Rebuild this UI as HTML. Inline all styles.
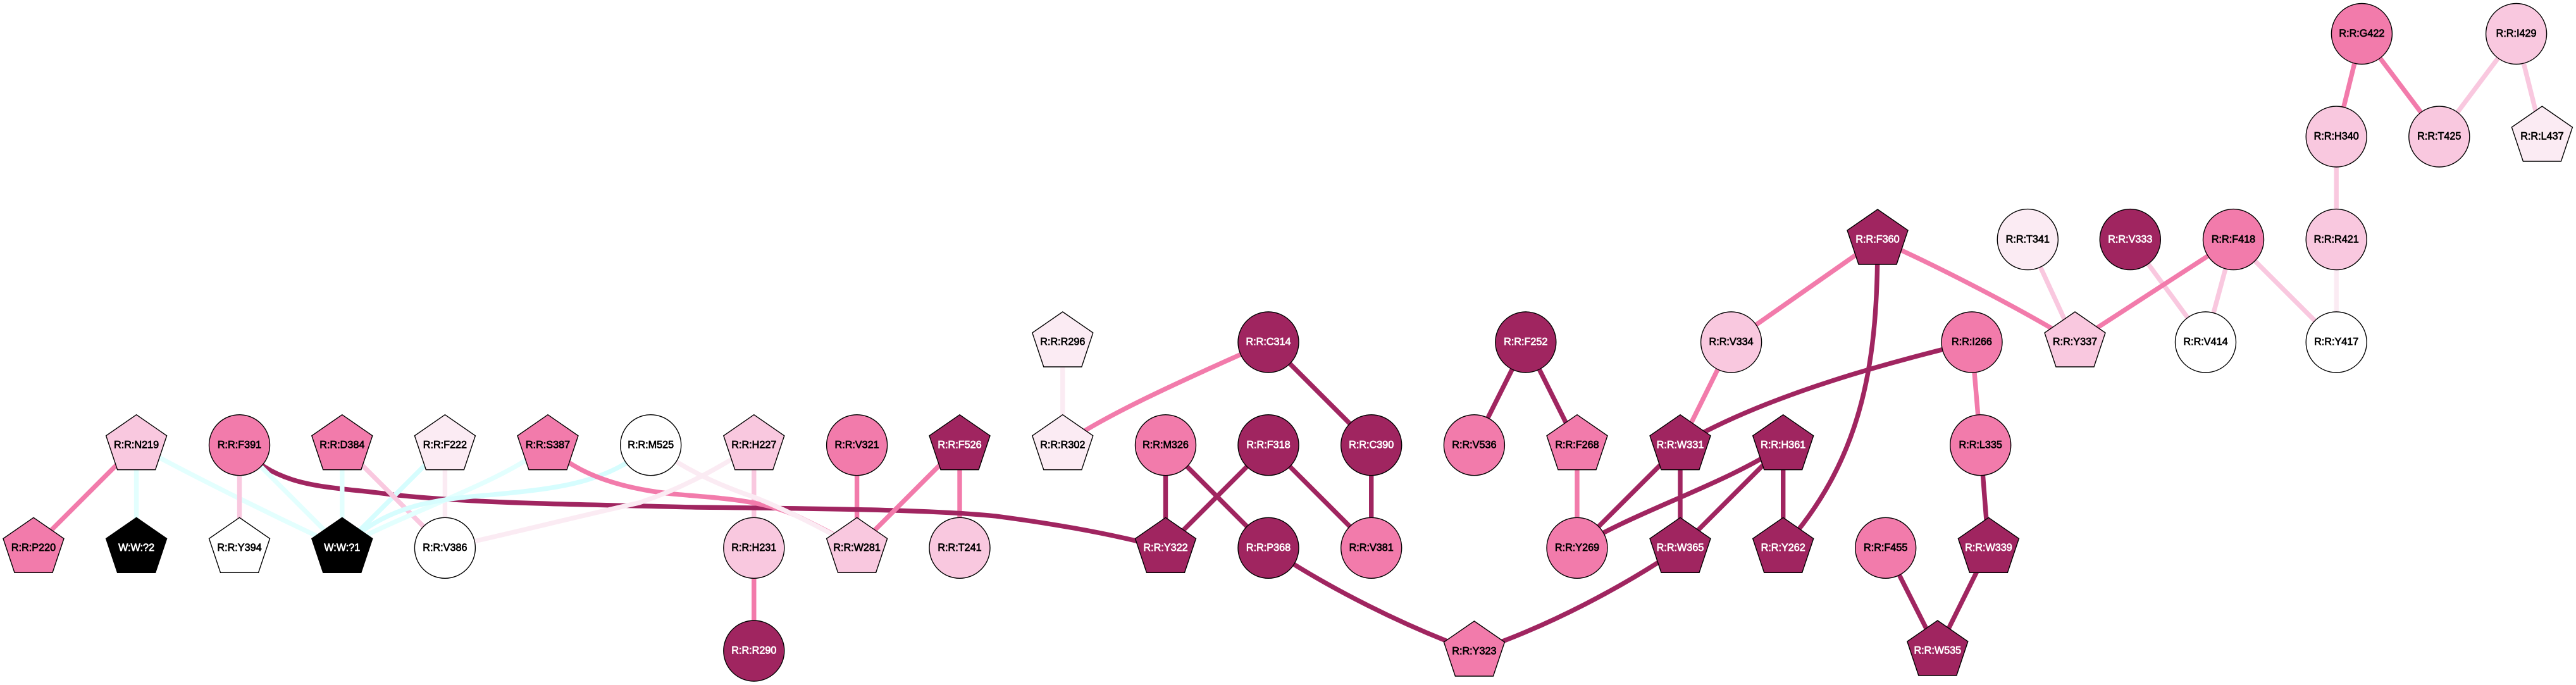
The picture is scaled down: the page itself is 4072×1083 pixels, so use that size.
<!DOCTYPE html>
<html><head><meta charset="utf-8"><style>
html,body{margin:0;padding:0;background:#fff;width:4072px;height:1083px;overflow:hidden}
svg{display:block}
.e{fill:none;stroke-width:7.4}
.d{stroke:#a02560}.p{stroke:#f27bab}.l{stroke:#f9c8df}.v{stroke:#fbebf3}.c{stroke:#e3fffe}.k{stroke:#d6fdfe}
circle,polygon{stroke:#000;stroke-width:1.4}
.D{fill:#a02560}.P{fill:#f27bab}.L{fill:#f9c8df}.V{fill:#fbebf3}.W{fill:#fff}.B{fill:#000}
text{font-family:"Liberation Sans",Arial,sans-serif;font-weight:normal;font-size:16.2px;text-anchor:middle;fill:#000;stroke:#000;stroke-width:.7}
text.w{fill:#fff;stroke:#fff}
</style></head><body>
<svg width="4072" height="1083" viewBox="0 0 4072 1083" xmlns="http://www.w3.org/2000/svg">
<rect width="4072" height="1083" fill="#fff"/>
<g>
<path class="e v" d="M703.4,703.7V866.3"/>
<path class="e l" d="M1191.8,703.7V866.3"/>
<path class="e p" d="M1354.6,703.7V866.3"/>
<path class="e p" d="M1517,703.7V866.3"/>
<path class="e d" d="M378.5,703.7C440,775 520,768 620,782C750,796 900,797 1100,802C1300,804 1480,806 1574,816C1650,826 1740,840 1842.5,866.3"/>
<path class="e p" d="M53,866.3L215.6,703.7"/>
<path class="e c" d="M215.6,703.7V866.3"/>
<path class="e c" d="M215.6,703.7C290,745 420,810 540.8,866.3"/>
<path class="e l" d="M378.5,703.7V866.3"/>
<path class="e c" d="M378.5,703.7L540.8,866.3"/>
<path class="e c" d="M540.8,703.7V866.3"/>
<path class="e k" d="M703.4,703.7L540.8,866.3"/>
<path class="e l" d="M540.8,703.7L703.4,866.3"/>
<path class="e c" d="M866,703.7C790,765 640,810 540.8,866.3"/>
<path class="e k" d="M1028.7,703.7C960,765 880,772 780,782C680,790 610,800 540.8,866.3"/>
<path class="e p" d="M866,703.7C900,740 960,770 1064,781C1140,788 1200,790 1255,813.7C1290,830 1325,848 1354.6,866.3"/>
<path class="e v" d="M703.4,866.3C800,845 920,815 1010,795C1070,775 1130,745 1191.8,703.7"/>
<path class="e v" d="M1028.7,703.7C1080,740 1130,765 1191,785.5C1240,805 1300,835 1354.6,866.3"/>
<path class="e p" d="M1517,703.7L1354.6,866.3"/>
<path class="e p" d="M1191.8,866.3V1029"/>
<path class="e v" d="M1679.8,541V703.7"/>
<path class="e p" d="M1679.8,703.7C1740,660 1860,605 2005,541"/>
<path class="e d" d="M1842.5,703.7V866.3"/>
<path class="e d" d="M1842.5,703.7L2005,866.3"/>
<path class="e d" d="M2005,703.7L1842.5,866.3"/>
<path class="e d" d="M2005,703.7L2167.7,866.3"/>
<path class="e d" d="M2005,541L2167.7,703.7"/>
<path class="e d" d="M2167.7,703.7V866.3"/>
<path class="e d" d="M2411.8,541L2330.4,703.7"/>
<path class="e d" d="M2411.8,541L2493,703.7"/>
<path class="e p" d="M2493,703.7V866.3"/>
<path class="e p" d="M2736.6,541L2968,379"/>
<path class="e p" d="M2736.6,541L2656,703.7"/>
<path class="e d" d="M2656,703.7L2493,866.3"/>
<path class="e d" d="M2656,703.7V866.3"/>
<path class="e d" d="M2818.7,703.7C2730,765 2580,810 2493,866.3"/>
<path class="e d" d="M2818.7,703.7L2656,866.3"/>
<path class="e d" d="M2818.7,703.7V866.3"/>
<path class="e d" d="M2968,379C2968,560 2950,720 2818.7,866.3"/>
<path class="e d" d="M3117,541C3000,570 2800,620 2656,703.7"/>
<path class="e p" d="M3117,541L3130.7,703.7"/>
<path class="e d" d="M3130.7,703.7L3143.4,866.3"/>
<path class="e d" d="M3143.4,866.3L3062.8,1029"/>
<path class="e d" d="M2980.7,866.3L3062.8,1029"/>
<path class="e d" d="M2005,866.3C2100,930 2220,990 2330.4,1030"/>
<path class="e d" d="M2656,866.3C2570,925 2450,990 2330.4,1030"/>
<path class="e p" d="M2968,379C3040,410 3180,480 3280,541"/>
<path class="e l" d="M3205.3,378.6L3280,541"/>
<path class="e l" d="M3367.3,378.6L3486.5,541"/>
<path class="e p" d="M3530.5,378.6L3280,541"/>
<path class="e l" d="M3530.5,378.6L3486.5,541"/>
<path class="e l" d="M3530.5,378.6L3693.2,541"/>
<path class="e v" d="M3693.2,378.6V541"/>
<path class="e l" d="M3693.2,216V378.6"/>
<path class="e p" d="M3733.4,53.5L3693.2,216"/>
<path class="e p" d="M3733.4,53.5L3855.8,216"/>
<path class="e l" d="M3977.6,53.5L3855.8,216"/>
<path class="e l" d="M3977.6,53.5L4018.4,216"/>
</g>
<g>
<polygon class="L" transform="translate(215.6 703.7)" points="0,-48 48,-14.8 30,39 -30,39 -48,-14.8"/><text x="215.6" y="708.4">R:R:N219</text>
<circle class="P" cx="378.5" cy="703.7" r="48"/><text x="378.5" y="708.4">R:R:F391</text>
<polygon class="P" transform="translate(540.8 703.7)" points="0,-48 48,-14.8 30,39 -30,39 -48,-14.8"/><text x="540.8" y="708.4">R:R:D384</text>
<polygon class="V" transform="translate(703.4 703.7)" points="0,-48 48,-14.8 30,39 -30,39 -48,-14.8"/><text x="703.4" y="708.4">R:R:F222</text>
<polygon class="P" transform="translate(866 703.7)" points="0,-48 48,-14.8 30,39 -30,39 -48,-14.8"/><text x="866" y="708.4">R:R:S387</text>
<circle class="W" cx="1028.7" cy="703.7" r="48"/><text x="1028.7" y="708.4">R:R:M525</text>
<polygon class="L" transform="translate(1191.8 703.7)" points="0,-48 48,-14.8 30,39 -30,39 -48,-14.8"/><text x="1191.8" y="708.4">R:R:H227</text>
<circle class="P" cx="1354.6" cy="703.7" r="48"/><text x="1354.6" y="708.4">R:R:V321</text>
<polygon class="D" transform="translate(1517 703.7)" points="0,-48 48,-14.8 30,39 -30,39 -48,-14.8"/><text class="w" x="1517" y="708.4">R:R:F526</text>
<polygon class="V" transform="translate(1679.8 541)" points="0,-48 48,-14.8 30,39 -30,39 -48,-14.8"/><text x="1679.8" y="545.7">R:R:R296</text>
<polygon class="V" transform="translate(1679.8 703.7)" points="0,-48 48,-14.8 30,39 -30,39 -48,-14.8"/><text x="1679.8" y="708.4">R:R:R302</text>
<circle class="P" cx="1842.5" cy="703.7" r="48"/><text x="1842.5" y="708.4">R:R:M326</text>
<circle class="D" cx="2005" cy="541" r="48"/><text class="w" x="2005" y="545.7">R:R:C314</text>
<circle class="D" cx="2005" cy="703.7" r="48"/><text class="w" x="2005" y="708.4">R:R:F318</text>
<circle class="D" cx="2167.7" cy="703.7" r="48"/><text class="w" x="2167.7" y="708.4">R:R:C390</text>
<circle class="D" cx="2411.8" cy="541" r="48"/><text class="w" x="2411.8" y="545.7">R:R:F252</text>
<circle class="P" cx="2330.4" cy="703.7" r="48"/><text x="2330.4" y="708.4">R:R:V536</text>
<polygon class="P" transform="translate(2493 703.7)" points="0,-48 48,-14.8 30,39 -30,39 -48,-14.8"/><text x="2493" y="708.4">R:R:F268</text>
<circle class="L" cx="2736.6" cy="541" r="48"/><text x="2736.6" y="545.7">R:R:V334</text>
<polygon class="D" transform="translate(2968 379)" points="0,-48 48,-14.8 30,39 -30,39 -48,-14.8"/><text class="w" x="2968" y="383.7">R:R:F360</text>
<polygon class="D" transform="translate(2656 703.7)" points="0,-48 48,-14.8 30,39 -30,39 -48,-14.8"/><text class="w" x="2656" y="708.4">R:R:W331</text>
<polygon class="D" transform="translate(2818.7 703.7)" points="0,-48 48,-14.8 30,39 -30,39 -48,-14.8"/><text class="w" x="2818.7" y="708.4">R:R:H361</text>
<circle class="P" cx="3117" cy="541" r="48"/><text x="3117" y="545.7">R:R:I266</text>
<circle class="P" cx="3130.7" cy="703.7" r="48"/><text x="3130.7" y="708.4">R:R:L335</text>
<circle class="V" cx="3205.3" cy="378.6" r="48"/><text x="3205.3" y="383.3">R:R:T341</text>
<circle class="D" cx="3367.3" cy="378.6" r="48"/><text class="w" x="3367.3" y="383.3">R:R:V333</text>
<circle class="P" cx="3530.5" cy="378.6" r="48"/><text x="3530.5" y="383.3">R:R:F418</text>
<circle class="L" cx="3693.2" cy="378.6" r="48"/><text x="3693.2" y="383.3">R:R:R421</text>
<circle class="P" cx="3733.4" cy="53.5" r="48"/><text x="3733.4" y="58.2">R:R:G422</text>
<circle class="L" cx="3977.6" cy="53.5" r="48"/><text x="3977.6" y="58.2">R:R:I429</text>
<circle class="L" cx="3693.2" cy="216" r="48"/><text x="3693.2" y="220.7">R:R:H340</text>
<circle class="L" cx="3855.8" cy="216" r="48"/><text x="3855.8" y="220.7">R:R:T425</text>
<polygon class="V" transform="translate(4018.4 216)" points="0,-48 48,-14.8 30,39 -30,39 -48,-14.8"/><text x="4018.4" y="220.7">R:R:L437</text>
<polygon class="L" transform="translate(3280 541)" points="0,-48 48,-14.8 30,39 -30,39 -48,-14.8"/><text x="3280" y="545.7">R:R:Y337</text>
<circle class="W" cx="3486.5" cy="541" r="48"/><text x="3486.5" y="545.7">R:R:V414</text>
<circle class="W" cx="3693.2" cy="541" r="48"/><text x="3693.2" y="545.7">R:R:Y417</text>
<polygon class="P" transform="translate(53 866.3)" points="0,-48 48,-14.8 30,39 -30,39 -48,-14.8"/><text x="53" y="871">R:R:P220</text>
<polygon class="B" transform="translate(215.6 866.3)" points="0,-48 48,-14.8 30,39 -30,39 -48,-14.8"/><text class="w" x="215.6" y="871">W:W:?2</text>
<polygon class="W" transform="translate(378.5 866.3)" points="0,-48 48,-14.8 30,39 -30,39 -48,-14.8"/><text x="378.5" y="871">R:R:Y394</text>
<polygon class="B" transform="translate(540.8 866.3)" points="0,-48 48,-14.8 30,39 -30,39 -48,-14.8"/><text class="w" x="540.8" y="871">W:W:?1</text>
<circle class="W" cx="703.4" cy="866.3" r="48"/><text x="703.4" y="871">R:R:V386</text>
<circle class="L" cx="1191.8" cy="866.3" r="48"/><text x="1191.8" y="871">R:R:H231</text>
<polygon class="L" transform="translate(1354.6 866.3)" points="0,-48 48,-14.8 30,39 -30,39 -48,-14.8"/><text x="1354.6" y="871">R:R:W281</text>
<circle class="L" cx="1517" cy="866.3" r="48"/><text x="1517" y="871">R:R:T241</text>
<circle class="D" cx="1191.8" cy="1029" r="48"/><text class="w" x="1191.8" y="1033.7">R:R:R290</text>
<polygon class="D" transform="translate(1842.5 866.3)" points="0,-48 48,-14.8 30,39 -30,39 -48,-14.8"/><text class="w" x="1842.5" y="871">R:R:Y322</text>
<circle class="D" cx="2005" cy="866.3" r="48"/><text class="w" x="2005" y="871">R:R:P368</text>
<circle class="P" cx="2167.7" cy="866.3" r="48"/><text x="2167.7" y="871">R:R:V381</text>
<circle class="P" cx="2493" cy="866.3" r="48"/><text x="2493" y="871">R:R:Y269</text>
<polygon class="D" transform="translate(2656 866.3)" points="0,-48 48,-14.8 30,39 -30,39 -48,-14.8"/><text class="w" x="2656" y="871">R:R:W365</text>
<polygon class="D" transform="translate(2818.7 866.3)" points="0,-48 48,-14.8 30,39 -30,39 -48,-14.8"/><text class="w" x="2818.7" y="871">R:R:Y262</text>
<circle class="P" cx="2980.7" cy="866.3" r="48"/><text x="2980.7" y="871">R:R:F455</text>
<polygon class="D" transform="translate(3143.4 866.3)" points="0,-48 48,-14.8 30,39 -30,39 -48,-14.8"/><text class="w" x="3143.4" y="871">R:R:W339</text>
<polygon class="D" transform="translate(3062.8 1029)" points="0,-48 48,-14.8 30,39 -30,39 -48,-14.8"/><text class="w" x="3062.8" y="1033.7">R:R:W535</text>
<polygon class="P" transform="translate(2330.4 1030)" points="0,-48 48,-14.8 30,39 -30,39 -48,-14.8"/><text x="2330.4" y="1034.7">R:R:Y323</text>
</g>
</svg>
</body></html>
